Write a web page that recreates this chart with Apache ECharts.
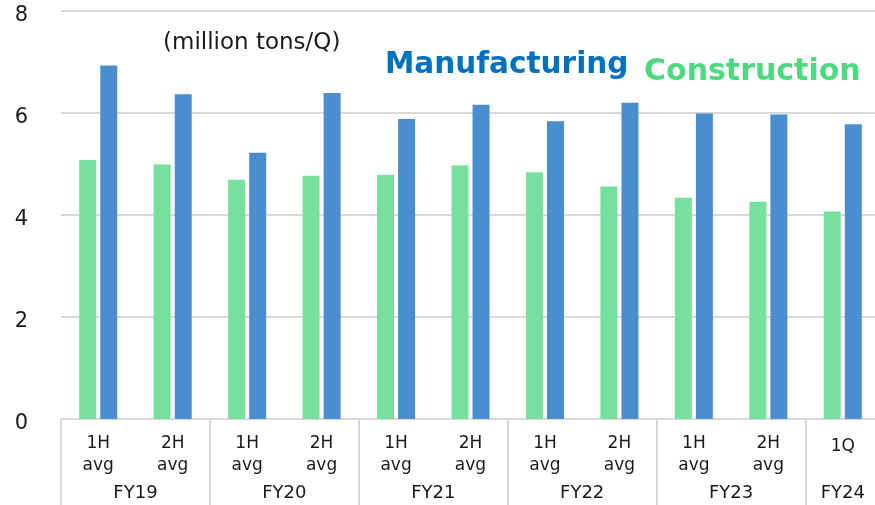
<!DOCTYPE html>
<html>
<head>
<meta charset="utf-8">
<script src="https://cdn.jsdelivr.net/npm/echarts@6/dist/echarts.min.js"></script>
<style>html,body{margin:0;padding:0;background:#fff;overflow:hidden;}#c{width:875px;height:505px;}</style>
</head>
<body>
<div id="c"></div>
<script>
// ---- data ----
const periods = ['1H\navg','2H\navg','1H\navg','2H\navg','1H\navg','2H\navg','1H\navg','2H\navg','1H\navg','2H\navg','1Q'];
const years = ['FY19','FY20','FY21','FY22','FY23','FY24'];
const yearSpans = [2,2,2,2,2,1];
const construction = [5.08,4.99,4.69,4.77,4.79,4.97,4.84,4.56,4.34,4.26,4.07];
const manufacturing = [6.93,6.37,5.22,6.39,5.88,6.16,5.84,6.20,5.99,5.97,5.78];
const yTicks = [0,2,4,6,8];

// build half-category points for the year axis
const total = yearSpans.reduce((a,b)=>a+b,0);
const yearPts = new Array(total*2+1).fill('');
const dividerIdx = new Set([0]);
let pos = 0;
years.forEach((y,i)=>{
  yearPts[pos + yearSpans[i]] = y;
  pos += yearSpans[i]*2;
  dividerIdx.add(pos);
});

const FONT = 'DejaVu Sans';
const chart = echarts.init(document.getElementById('c'), null, {renderer:'canvas'});
chart.setOption({
  animation:false,
  textStyle:{fontFamily:FONT},
  grid:{left:61, top:11, right:-5, bottom:86, containLabel:false, outerBoundsMode:'none'},
  xAxis:[{
    type:'category', data:periods, position:'bottom',
    axisLine:{show:true, lineStyle:{color:'#d9d9d9', width:2}},
    axisTick:{show:false},
    axisLabel:{interval:0, fontSize:17, lineHeight:22, margin:14, color:'#1a1a1a', fontFamily:FONT,
      formatter:function(v){ return v.indexOf('\n')<0 ? '{q|'+v+'}' : v; },
      rich:{q:{fontSize:17, lineHeight:22, padding:[5,0,0,0], color:'#1a1a1a', fontFamily:FONT}}}
  },{
    type:'category', data:yearPts, position:'bottom', boundaryGap:false,
    axisLine:{show:false},
    axisTick:{show:true, length:90, interval:function(i){return dividerIdx.has(i);}, lineStyle:{color:'#d9d9d9', width:2}},
    axisLabel:{interval:0, fontSize:18, lineHeight:18, margin:65, color:'#1a1a1a', fontFamily:FONT}
  }],
  yAxis:{
    type:'value', min:yTicks[0], max:yTicks[yTicks.length-1], interval:2,
    axisLine:{show:false}, axisTick:{show:false},
    splitLine:{lineStyle:{color:'#d9d9d9', width:2}},
    axisLabel:{margin:33, color:'#1a1a1a', fontFamily:FONT,
      formatter:function(v){ return '{n|'+v+'}'; },
      rich:{n:{fontSize:21, lineHeight:21, padding:[9,0,0,0], color:'#1a1a1a', fontFamily:FONT}}}
  },
  series:[{
    name:'Construction', type:'bar', data:construction, barWidth:17, barGap:'24%',
    itemStyle:{color:'#77e09e'}, xAxisIndex:0
  },{
    name:'Manufacturing', type:'bar', data:manufacturing, barWidth:17, barGap:'24%',
    itemStyle:{color:'#4a8ecf'}, xAxisIndex:0
  }],
  graphic:[
    {type:'text', left:163, top:32, style:{text:'(million tons/Q)', fontSize:23, fontFamily:FONT, fill:'#1a1a1a'}},
    {type:'text', left:385, top:50, style:{text:'Manufacturing', fontSize:29.5, fontWeight:'bold', fontFamily:FONT, fill:'#0070c0'}},
    {type:'text', left:644, top:57, style:{text:'Construction', fontSize:30, fontWeight:'bold', fontFamily:FONT, fill:'#4cd980'}}
  ]
});
</script>
</body>
</html>
